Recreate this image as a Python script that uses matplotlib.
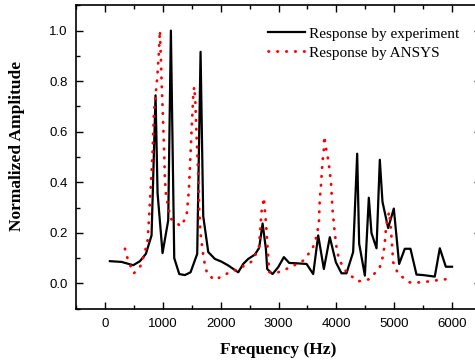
import numpy as np
import matplotlib
matplotlib.use('Agg')
import matplotlib.pyplot as plt
from matplotlib.ticker import MultipleLocator

# experiment (black solid)
f_exp = [86, 288, 489, 605, 708, 806, 875, 910, 996, 1094, 1140, 1198, 1285, 1382,
         1480, 1595, 1653, 1699, 1786, 1900, 2015, 2131, 2304, 2390, 2477, 2592,
         2666, 2725, 2782, 2805, 2897, 2994, 3093, 3185, 3283, 3485, 3600, 3686,
         3784, 3887, 3991, 4089, 4175, 4290, 4360, 4394, 4493, 4561, 4607, 4694,
         4751, 4797, 4895, 4993, 5085, 5183, 5281, 5385, 5500, 5701, 5788, 5892, 6000]
a_exp = [0.088, 0.085, 0.072, 0.088, 0.117, 0.19, 0.744, 0.356, 0.12, 0.25, 1.0,
         0.10, 0.037, 0.033, 0.044, 0.117, 0.916, 0.266, 0.124, 0.097, 0.086, 0.071,
         0.044, 0.077, 0.097, 0.114, 0.141, 0.237, 0.137, 0.057, 0.037, 0.064, 0.104,
         0.081, 0.080, 0.077, 0.037, 0.19, 0.057, 0.183, 0.084, 0.040, 0.040, 0.124,
         0.513, 0.157, 0.031, 0.339, 0.199, 0.139, 0.489, 0.323, 0.219, 0.296, 0.077,
         0.137, 0.137, 0.035, 0.033, 0.027, 0.139, 0.066, 0.066]

# ANSYS (red dotted)
f_ans = [346, 403, 501, 622, 691, 737, 766, 789, 823, 847, 904, 933, 950, 968, 979,
         996, 1019, 1037, 1054, 1094, 1140, 1313, 1411, 1451, 1480, 1509, 1526, 1543,
         1561, 1584, 1612, 1630, 1653, 1688, 1716, 1768, 1900, 2120, 2332, 2534, 2660,
         2707, 2747, 2782, 2811, 2839, 2994, 3208, 3426, 3588, 3657, 3697, 3714, 3732,
         3761, 3784, 3790, 3819, 3859, 3887, 3910, 3934, 3974, 4003, 4048, 4175, 4376,
         4578, 4751, 4809, 4838, 4856, 4884, 4913, 4936, 4953, 4982, 5068, 5270, 5472,
         5689, 5904]
a_ans = [0.137, 0.088, 0.040, 0.071, 0.124, 0.17, 0.27, 0.37, 0.515, 0.675, 0.814,
         0.914, 1.0, 0.887, 0.80, 0.70, 0.555, 0.41, 0.356, 0.30, 0.256, 0.226, 0.266,
         0.37, 0.515, 0.66, 0.74, 0.778, 0.728, 0.58, 0.436, 0.29, 0.197, 0.13, 0.088,
         0.037, 0.0135, 0.04, 0.06, 0.086, 0.137, 0.283, 0.339, 0.243, 0.143, 0.044,
         0.044, 0.064, 0.09, 0.137, 0.186, 0.237, 0.336, 0.382, 0.482, 0.531, 0.582,
         0.538, 0.489, 0.442, 0.389, 0.29, 0.197, 0.143, 0.093, 0.044, 0.008, 0.017,
         0.064, 0.11, 0.163, 0.213, 0.256, 0.283, 0.23, 0.183, 0.084, 0.037, 0.004,
         0.004, 0.011, 0.017]

fig = plt.figure(figsize=(4.75, 3.62), dpi=100)
ax = fig.add_axes([76/475, 53.3/362, 405/475, 303.4/362])

ax.plot(f_exp, a_exp, color='black', lw=1.6, label='Response by experiment')
ax.plot(f_ans, a_ans, color='red', lw=2.0, linestyle=(0, (0.2, 3.0)),
        dash_capstyle='round', label='Response by ANSYS')

ax.set_xlim(-500, 6500)
ax.set_ylim(-0.1, 1.1)
ax.xaxis.set_minor_locator(MultipleLocator(500))
ax.yaxis.set_minor_locator(MultipleLocator(0.1))
ax.set_xticks(np.arange(0, 6001, 1000))
ax.set_yticks(np.arange(0, 1.01, 0.2))
ax.yaxis.set_major_formatter(plt.FormatStrFormatter('%.1f'))
ax.tick_params(which='both', direction='in', top=True, right=True,
               width=1.0, labelsize=9.5)
ax.tick_params(which='major', length=5)
ax.tick_params(which='minor', length=3)
ax.tick_params(axis='y', pad=6)
ax.tick_params(axis='x', pad=7)
for lab in ax.get_xticklabels() + ax.get_yticklabels():
    lab.set_fontfamily('Liberation Sans')
for sp in ax.spines.values():
    sp.set_linewidth(1.2)

ax.set_xlabel('Frequency (Hz)', fontfamily='Liberation Serif', fontweight='bold',
              fontsize=12.5)
ax.set_ylabel('Normalized Amplitude', fontfamily='Liberation Serif',
              fontweight='bold', fontsize=12.5)
ax.xaxis.set_label_coords(0.5, -0.11)
ax.yaxis.set_label_coords(-0.125, 0.535)

ax.legend(loc='upper left', bbox_to_anchor=(0.44, 0.974), frameon=False,
          prop={'family': 'Liberation Serif', 'size': 11}, handlelength=2.4,
          handletextpad=0.3, labelspacing=0.35, borderaxespad=0.5)

fig.savefig('out.png', dpi=100)
